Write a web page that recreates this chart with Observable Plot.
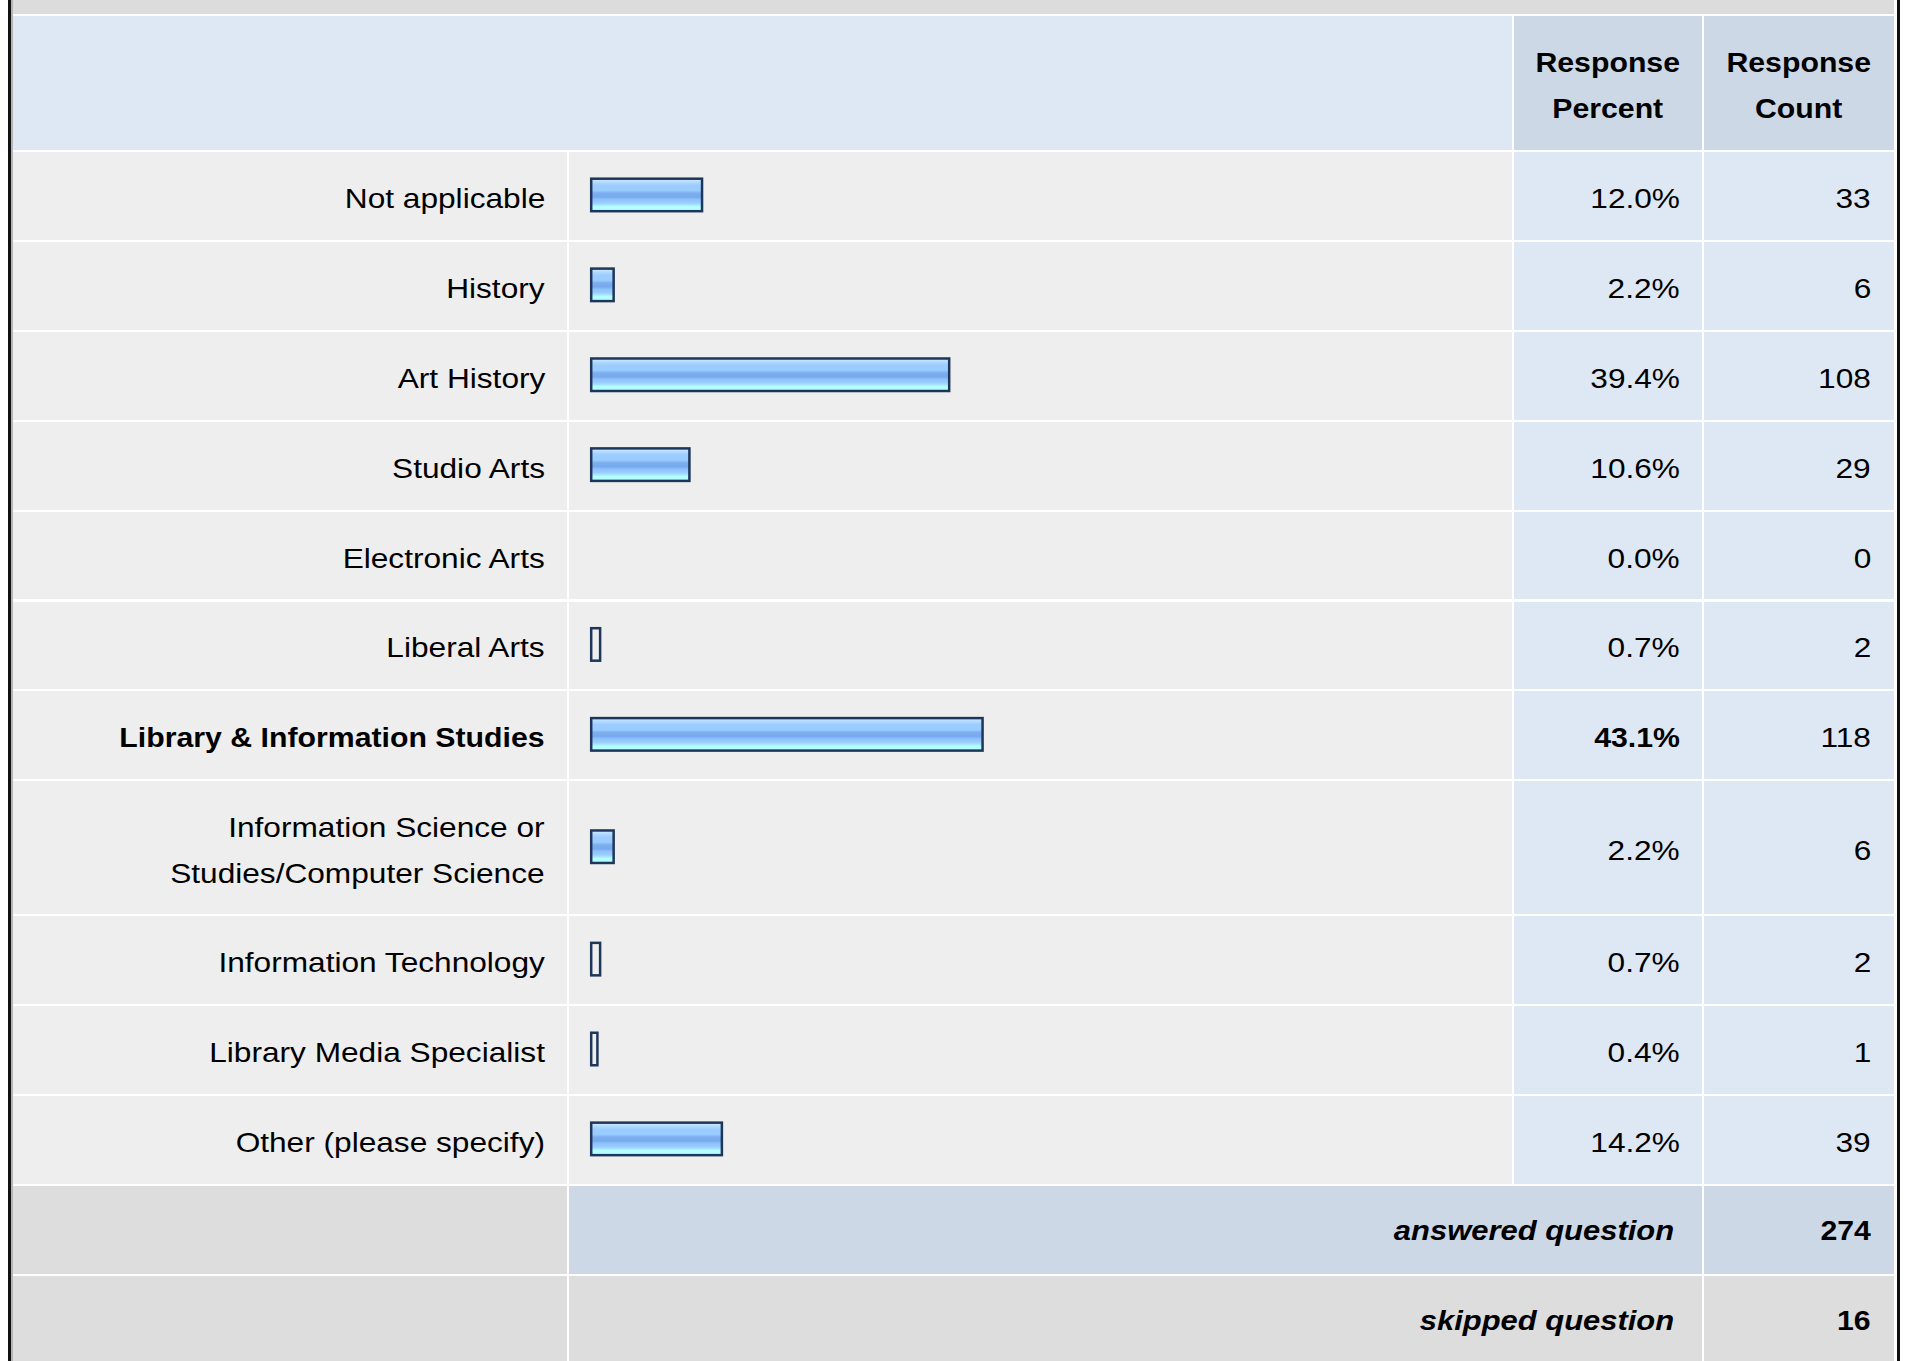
<!DOCTYPE html>
<html>
<head>
<meta charset="utf-8">
<script src="https://cdn.jsdelivr.net/npm/d3@7"></script>
<script src="https://cdn.jsdelivr.net/npm/@observablehq/plot@0.6"></script>
<style>
  html, body { margin: 0; padding: 0; background: #ffffff; }
  #chart { position: relative; width: 1909px; height: 1361px; overflow: hidden;
           font-family: "Liberation Sans", Arial, sans-serif; color: #000; }
  #chart .cell { position: absolute; }
  #chart .txt { position: absolute; white-space: pre; }
  #chart .txt span { display: inline-block; white-space: pre; }
  #chart svg { position: absolute; left: 0; top: 0; background: transparent !important; }
</style>
</head>
<body>
<div id="chart"></div>
<script>
// ---------- data ----------
const categories = [
  "Not applicable",
  "History",
  "Art History",
  "Studio Arts",
  "Electronic Arts",
  "Liberal Arts",
  "Library & Information Studies",
  "Information Science or\nStudies/Computer Science",
  "Information Technology",
  "Library Media Specialist",
  "Other (please specify)"
];
const percents = [12.0, 2.2, 39.4, 10.6, 0.0, 0.7, 43.1, 2.2, 0.7, 0.4, 14.2];
const counts   = [33, 6, 108, 29, 0, 2, 118, 6, 2, 1, 39];
const boldCategory = "Library & Information Studies";
const headerPercent = "Response\nPercent";
const headerCount = "Response\nCount";
const footerLabels = ["answered question", "skipped question"];
const footerValues = [274, 16];

// ---------- layout (pixels) ----------
const W = 1909, H = 1361;
const U = 89.9;          // height of one table row
const TOP = 150;         // bottom of the header row
const GAP = 2;
const colLabel = [13, 567], colBar = [569, 1512], colPct = [1514, 1702], colCnt = [1704, 1894];
const C = {
  strip: "#dcdcdc", header: "#dee8f5", headerDark: "#ccd8e6",
  rowLight: "#eeeeee", rowBlue: "#dee8f5", footGray: "#dddddd", footBlue: "#ccd8e6"
};
const FS = 27.5, SX_REG = 1.15, SX_BOLD = 1.10, SX_BI = 1.125;

const chart = document.getElementById("chart");

function cell(x0, x1, y0, y1, bg) {
  const d = document.createElement("div");
  d.className = "cell";
  Object.assign(d.style, {left: x0 + "px", top: y0 + "px", width: (x1 - x0) + "px", height: (y1 - y0) + "px", background: bg});
  chart.appendChild(d);
}
function text(str, {right, center, cy, bold = false, italic = false, lh = 30}) {
  const lines = str.split("\n").length;
  const h = lines * lh;
  const d = document.createElement("div");
  d.className = "txt";
  const s = document.createElement("span");
  s.textContent = str;
  const sx = bold ? (italic ? SX_BI : SX_BOLD) : SX_REG;
  Object.assign(s.style, {
    fontSize: FS + "px", lineHeight: lh + "px", fontWeight: bold ? "bold" : "normal",
    fontStyle: italic ? "italic" : "normal",
    transform: `scaleX(${sx})`, transformOrigin: right != null ? "100% 50%" : "50% 50%"
  });
  if (right != null) {
    Object.assign(d.style, {left: "0px", width: right + "px", textAlign: "right"});
  } else {
    Object.assign(d.style, {left: (center - 400) + "px", width: "800px", textAlign: "center"});
  }
  Object.assign(d.style, {top: (cy - h / 2) + "px", height: h + "px"});
  d.appendChild(s);
  chart.appendChild(d);
}

// ---------- rows ----------
let acc = 0;
const rows = categories.map((label, i) => {
  const lines = label.split("\n").length;
  const units = lines > 1 ? 1.5 : 1;
  const r = {label, pct: percents[i], count: counts[i], lines, u0: acc, u1: acc + units, umid: acc + units / 2};
  acc += units;
  return r;
});
const dataUnits = acc;

// frame / borders
cell(7.5, 11, 0, H, "#111111");
cell(11, 12.5, 0, H, "#b5b5b5");
cell(1897, 1900, 0, H, "#111111");
cell(colLabel[0], colCnt[1], 0, 14, C.strip);

// header
cell(colLabel[0], colBar[1], 16, TOP, C.header);
cell(colPct[0], colPct[1], 16, TOP, C.headerDark);
cell(colCnt[0], colCnt[1], 16, TOP, C.headerDark);
const hc = 86;
text(headerPercent, {center: (colPct[0] + colPct[1]) / 2, cy: hc, bold: true, lh: 46.5});
text(headerCount, {center: (colCnt[0] + colCnt[1]) / 2, cy: hc, bold: true, lh: 46.5});

// data rows
const TY = 4; // optical offset of text centre
rows.forEach(r => {
  const y0 = TOP + r.u0 * U + GAP, y1 = TOP + r.u1 * U;
  cell(colLabel[0], colLabel[1], y0, y1, C.rowLight);
  cell(colBar[0], colBar[1], y0, y1, C.rowLight);
  cell(colPct[0], colPct[1], y0, y1, C.rowBlue);
  cell(colCnt[0], colCnt[1], y0, y1, C.rowBlue);
  const cy = TOP + r.umid * U + TY;
  const isBold = r.label === boldCategory;
  text(r.label, {right: 545, cy, bold: isBold, lh: r.lines > 1 ? 46 : 30});
  text(r.pct.toFixed(1) + "%", {right: 1680, cy, bold: isBold});
  text(String(r.count), {right: 1871, cy});
});

// footer rows
footerLabels.forEach((lab, i) => {
  const u0 = dataUnits + i, u1 = u0 + 1;
  const y0 = TOP + u0 * U + GAP, y1 = TOP + u1 * U;
  const bg = i === 0 ? C.footBlue : C.footGray;
  cell(colLabel[0], colLabel[1], y0, y1, C.footGray);
  cell(colBar[0], colPct[1], y0, y1, bg);
  cell(colCnt[0], colCnt[1], y0, y1, bg);
  const cy = TOP + (u0 + 0.5) * U + 2;
  text(lab, {right: 1674, cy, bold: true, italic: true});
  text(String(footerValues[i]), {right: 1871, cy, bold: true});
});

// ---------- bars with Observable Plot ----------
const X0 = 592.5, PX_PER_PCT = 9.02;
const barHalfUnits = 16.25 / U;
const plot = Plot.plot({
  width: W, height: H,
  marginLeft: X0, marginRight: W - (X0 + 100 * PX_PER_PCT),
  marginTop: TOP, marginBottom: H - (TOP + dataUnits * U),
  x: {domain: [0, 100], axis: null},
  y: {domain: [0, dataUnits], reverse: true, axis: null},
  style: {background: "transparent", overflow: "visible"},
  marks: [
    Plot.rect(rows.filter(d => d.pct > 0), {
      x1: d => 0, x2: "pct",
      y1: d => d.umid - barHalfUnits, y2: d => d.umid + barHalfUnits,
      insetLeft: -1.3, insetRight: -1.3,
      fill: d => d.pct < 1 ? "none" : "url(#barGrad)",
      stroke: "#1d3659", strokeWidth: 2.5
    })
  ]
});
const svg = d3.select(plot);
const grad = svg.insert("defs", ":first-child").append("linearGradient")
  .attr("id", "barGrad").attr("x1", 0).attr("y1", 0).attr("x2", 0).attr("y2", 1);
[
  [0.00, "#d6edff"], [0.10, "#b4dbff"], [0.20, "#9dcdff"], [0.36, "#99ccff"],
  [0.44, "#7dafef"], [0.56, "#76a9ee"], [0.64, "#8ec2fa"], [0.74, "#99ccff"],
  [0.80, "#a6e2ff"], [0.86, "#b3ffff"], [1.00, "#b3ffff"]
].forEach(([o, c]) => grad.append("stop").attr("offset", o).attr("stop-color", c));
chart.appendChild(plot);
</script>
</body>
</html>
